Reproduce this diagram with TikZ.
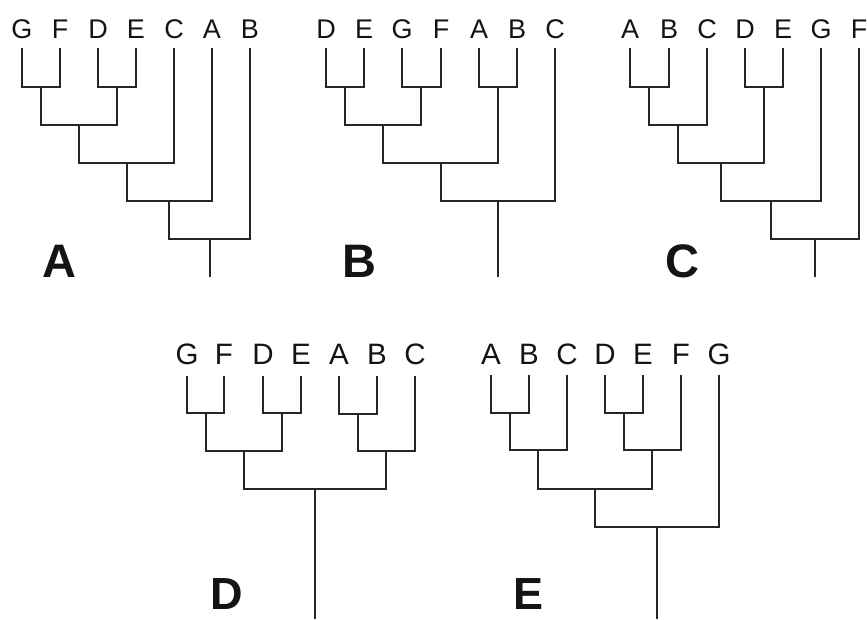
\documentclass[tikz,border=0pt]{standalone}
\usepackage{fontspec}
\setmainfont{Liberation Sans}
\begin{document}
\begin{tikzpicture}[x=1pt,y=-1pt,
  leaflab/.style={font=\fontsize{27}{27}\selectfont, text=black!92, anchor=base, inner sep=0pt},
  leaflabbig/.style={font=\fontsize{29.5}{29.5}\selectfont, text=black!92, anchor=base, inner sep=0pt},
  panel/.style={font=\fontsize{47}{47}\selectfont\bfseries, text=black!92, anchor=base, inner sep=0pt},
  panellow/.style={font=\fontsize{45}{45}\selectfont\bfseries, text=black!92, anchor=base, inner sep=0pt},
  branch/.style={draw=black!85, line width=2pt, line join=miter}]
\useasboundingbox (0,0) rectangle (867,619);

% ---------- Tree A ----------
\foreach \n/\x in {G/22,F/60,D/98,E/136,C/174,A/212,B/250}{
  \coordinate (aT\n) at (\x,48);
  \node[leaflab] (aL\n) at (\x,38) {\n};
}
\coordinate (a1) at (41,87);
\coordinate (a2) at (117,87);
\coordinate (a3) at (79,125);
\coordinate (a4) at (127,163);
\coordinate (a5) at (169,201);
\coordinate (a6) at (210,239);
\coordinate (aR) at (210,277);
\draw[branch] (aTG) |- (a1) -| (aTF);
\draw[branch] (aTD) |- (a2) -| (aTE);
\draw[branch] (a1) |- (a3) -| (a2);
\draw[branch] (a3) |- (a4) -| (aTC);
\draw[branch] (a4) |- (a5) -| (aTA);
\draw[branch] (a5) |- (a6) -| (aTB);
\draw[branch] (a6) -- (aR);
\node[panel] (pA) at (59,277) {A};

% ---------- Tree B ----------
\foreach \n/\x in {D/326,E/364,G/402,F/441,A/479,B/517,C/555}{
  \coordinate (bT\n) at (\x,48);
  \node[leaflab] (bL\n) at (\x,38) {\n};
}
\coordinate (b1) at (345,87);
\coordinate (b2) at (421,87);
\coordinate (b3) at (498,87);
\coordinate (b4) at (383,125);
\coordinate (b5) at (441,163);
\coordinate (b6) at (498,201);
\coordinate (bR) at (498,277);
\draw[branch] (bTD) |- (b1) -| (bTE);
\draw[branch] (bTG) |- (b2) -| (bTF);
\draw[branch] (bTA) |- (b3) -| (bTB);
\draw[branch] (b1) |- (b4) -| (b2);
\draw[branch] (b4) |- (b5) -| (b3);
\draw[branch] (b5) |- (b6) -| (bTC);
\draw[branch] (b6) -- (bR);
\node[panel] (pB) at (359,277) {B};

% ---------- Tree C ----------
\foreach \n/\x in {A/630,B/669,C/707,D/745,E/783,G/821,F/859}{
  \coordinate (cT\n) at (\x,48);
  \node[leaflab] (cL\n) at (\x,38) {\n};
}
\coordinate (c1) at (649,87);
\coordinate (c2) at (764,87);
\coordinate (c3) at (678,125);
\coordinate (c4) at (721,163);
\coordinate (c5) at (771,201);
\coordinate (c6) at (815,239);
\coordinate (cR) at (815,277);
\draw[branch] (cTA) |- (c1) -| (cTB);
\draw[branch] (cTD) |- (c2) -| (cTE);
\draw[branch] (c1) |- (c3) -| (cTC);
\draw[branch] (c3) |- (c4) -| (c2);
\draw[branch] (c4) |- (c5) -| (cTG);
\draw[branch] (c5) |- (c6) -| (cTF);
\draw[branch] (c6) -- (cR);
\node[panel] (pC) at (682.7,277) {C};

% ---------- Tree D ----------
\foreach \n/\x in {G/187,F/224,D/263,E/301,A/339,B/377,C/415}{
  \coordinate (dT\n) at (\x,376);
  \node[leaflabbig] (dL\n) at (\x,364) {\n};
}
\coordinate (d1) at (206,413);
\coordinate (d2) at (282,413);
\coordinate (d3) at (358,414);
\coordinate (d4) at (244,451);
\coordinate (d5) at (386,451);
\coordinate (d6) at (315,489);
\coordinate (dR) at (315,619);
\draw[branch] (dTG) |- (d1) -| (dTF);
\draw[branch] (dTD) |- (d2) -| (dTE);
\draw[branch] (dTA) |- (d3) -| (dTB);
\draw[branch] (d1) |- (d4) -| (d2);
\draw[branch] (d3) |- (d5) -| (dTC);
\draw[branch] (d4) |- (d6) -| (d5);
\draw[branch] (d6) -- (dR);
\node[panellow] (pD) at (226.7,609) {D};

% ---------- Tree E ----------
\foreach \n/\x in {A/491,B/529,C/567,D/605,E/643,F/681,G/719}{
  \coordinate (eT\n) at (\x,375);
  \node[leaflabbig] (eL\n) at (\x,364) {\n};
}
\coordinate (e1) at (510,413);
\coordinate (e2) at (624,413);
\coordinate (e3) at (538,450);
\coordinate (e4) at (652,450);
\coordinate (e5) at (595,489);
\coordinate (e6) at (657,527);
\coordinate (eR) at (657,619);
\draw[branch] (eTA) |- (e1) -| (eTB);
\draw[branch] (eTD) |- (e2) -| (eTE);
\draw[branch] (e1) |- (e3) -| (eTC);
\draw[branch] (e2) |- (e4) -| (eTF);
\draw[branch] (e3) |- (e5) -| (e4);
\draw[branch] (e5) |- (e6) -| (eTG);
\draw[branch] (e6) -- (eR);
\node[panellow] (pE) at (529,609) {E};
\end{tikzpicture}
\end{document}
